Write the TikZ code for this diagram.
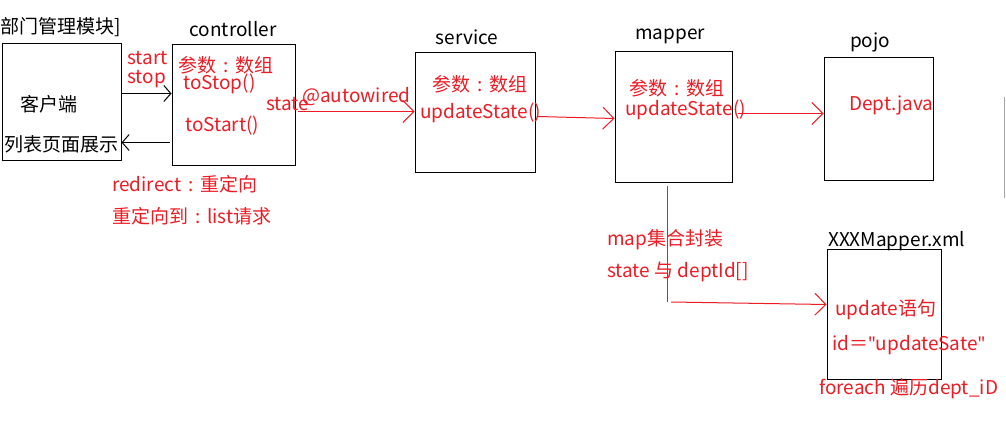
\documentclass[tikz,border=0pt]{standalone}
\usepackage{fontspec}
\setmainfont{Noto Sans CJK SC}
\newfontfamily\latq{Noto Sans}
\usetikzlibrary{arrows.meta}
\definecolor{pred}{RGB}{237,28,36}
\newcommand{\qcolon}{\makebox[1em][c]{:}}
\newcommand{\sq}{{\latq\char"22}}
\tikzset{
  box/.style={draw=black, line width=1pt, inner sep=0pt},
  lbl/.style={inner sep=0pt, anchor=west, font=\fontsize{19}{20}\selectfont},
  blk/.style={lbl, text=black},
  rlbl/.style={lbl, text=pred},
  tight/.style={anchor=base west, text height=1.3ex, text depth=0.15ex},
  barrow/.style={draw=black, line width=1pt, -{Straight Barb[length=7pt,width=16pt]}},
  rarrow/.style={draw=pred, line width=1pt, -{Straight Barb[length=11pt,width=22pt]}},
  rline/.style={draw=pred, line width=1pt}
}
\begin{document}
\begin{tikzpicture}[x=1pt,y=-1pt]
\useasboundingbox[fill=white] (0,0) rectangle (1006,444);
% boxes
\node[box, minimum width=119pt, minimum height=116pt] (client) at (61.5,102) {};
\node[box, minimum width=123pt, minimum height=120pt] (ctrl) at (233.5,105) {};
\node[box, minimum width=120pt, minimum height=119pt] (service) at (475,112.5) {};
\node[box, minimum width=117pt, minimum height=130pt] (mapper) at (673.5,117) {};
\node[box, minimum width=109pt, minimum height=122pt] (pojo) at (878.5,119) {};
\node[box, minimum width=114pt, minimum height=130pt] (xml) at (884,314) {};
% black labels
\node[blk] (title) at (0,27) {部门管理模块]};
\node[blk, anchor=center] (tctrl) at (233,29) {controller};
\node[blk] (kehu) at (20,104) {客户端};
\node[blk] (liebiao) at (4,144) {列表页面展示};
\node[blk, anchor=center] (tserv) at (467,37) {service};
\node[blk] (tmapper) at (635,36) {mapper};
\node[blk] (tpojo) at (850,42) {pojo};
\node[blk] (txml) at (828,241) {XXXMapper.xml};
% red labels
\node[rlbl, tight] (start) at (127,64) {start};
\node[rlbl, tight] (stop) at (127,83) {stop};
\node[rlbl] (cparam) at (178,65) {参数\qcolon 数组};
\node[rlbl] (tostop) at (183,84) {toStop()};
\node[rlbl] (tostart) at (185,126) {toStart()};
\node[rlbl] (state) at (266,104) {state};
\node[rlbl] (autow) at (302,97) {@autowired};
\node[rlbl] (redir) at (112,184) {redirect\qcolon 重定向};
\node[rlbl] (redir2) at (112,216) {重定向到\qcolon list请求};
\node[rlbl] (sparam) at (432,84) {参数\qcolon 数组};
\node[rlbl] (supd) at (420,113) {updateState()};
\node[rlbl] (mparam) at (629,88) {参数\qcolon 数组};
\node[rlbl] (mupd) at (625,110) {updateState()};
\node[rlbl] (dept) at (849,105) {Dept.java};
\node[rlbl] (mapset) at (607,240) {map集合封装};
\node[rlbl] (stdept) at (607,272) {state 与 deptId[]};
\node[rlbl] (updsql) at (835,310) {update语句};
\node[rlbl] (idupd) at (832,345) {id＝\sq updateSate\sq};
\node[rlbl] (foreach) at (819,389) {foreach 遍历dept\_iD};
% connectors
\draw[barrow] ([yshift=-50pt]client.north east) -- ([yshift=-49pt]ctrl.north west);
\draw[barrow] ([xshift=-2pt,yshift=-98pt]ctrl.north west) -- ([yshift=-99pt]client.north east);
\draw[rarrow] ([xshift=2pt,yshift=-67pt]ctrl.north east) -- ([yshift=-59pt]service.north west);
\draw[rarrow] ([xshift=2pt,yshift=-64pt]service.north east) -- ([yshift=-67pt]mapper.north west);
\draw[rarrow] ([xshift=5pt,yshift=-62pt]mapper.north east) -- ([yshift=-56pt]pojo.north west);
\coordinate (bend) at (667,302);
\draw[rline] ([yshift=-3pt]mapper.south -| bend) -- (bend);
\draw[rarrow] ([xshift=4pt]bend) -- ([yshift=-56pt]xml.north west);
% screenshot edge
\draw[gray!70, line width=1pt] (1004.5,97) -- (1004.5,198);
\end{tikzpicture}
\end{document}
